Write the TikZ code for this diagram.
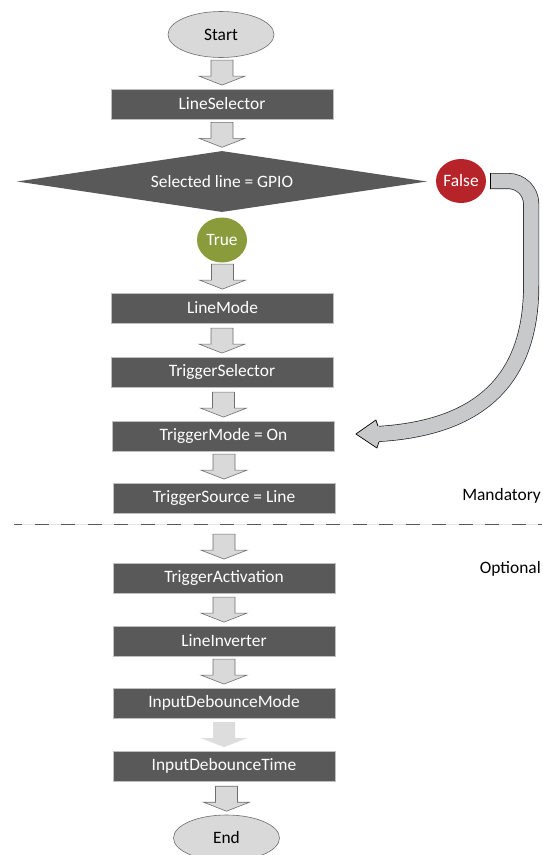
\documentclass[tikz,border=0pt]{standalone}
\usepackage{fontspec}
\setmainfont{Carlito}
\usetikzlibrary{shapes.geometric,calc}

\definecolor{boxgray}{HTML}{595959}
\definecolor{boxedge}{HTML}{BFBFBF}
\definecolor{arrowgray}{HTML}{D9D9D9}
\definecolor{arrowedge}{HTML}{6E6E6E}
\definecolor{truegreen}{HTML}{8A9B3C}
\definecolor{falsered}{HTML}{B6242A}
\definecolor{bendgray}{HTML}{C8C9CB}

% block arrow that ends just above node #3
\newcommand{\flowarrow}[3][fill=arrowgray, draw=arrowedge]{%
	\path[#1, line width=0.6pt] let \p1=(#2.south), \p2=(#3.north) in
		(\x2-11pt,\y2+28.5pt) -- (\x2+11pt,\y2+28.5pt) -- (\x2+11pt,\y2+12.5pt)
		-- (\x2+23pt,\y2+12.5pt) -- (\x2,\y2+3.5pt) -- (\x2-23pt,\y2+12.5pt)
		-- (\x2-11pt,\y2+12.5pt) -- cycle;}

\begin{document}
\begin{tikzpicture}[x=1pt, y=-1pt,
		every node/.style={font=\fontsize{17.4}{20}\selectfont},
		stepbox/.style={rectangle, fill=boxgray, draw=boxedge, line width=0.8pt, text=white,
				minimum width=222pt, minimum height=30pt, inner sep=0pt},
		terminal/.style={ellipse, fill=arrowgray, draw=arrowedge, line width=0.6pt,
				minimum width=106pt, minimum height=46pt, inner sep=0pt},
		answer/.style={ellipse, text=white, minimum width=50pt, minimum height=45pt, inner sep=0pt},
	]
	\useasboundingbox (0,0) rectangle (542,855);

	\node[terminal] (start) at (221,34.5) {Start};
	\node[stepbox] (linesel) at (222,104) {LineSelector};
	\node[diamond, aspect=6.72, fill=boxgray, text=white, minimum width=410pt, minimum height=61pt, inner sep=0pt] (gpio) at (222,181.5) {Selected line = GPIO};
	\node[answer, fill=truegreen] (true) at (222,240) {True};
	\node[answer, fill=falsered, minimum height=44pt] (false) at (461,181) {False};
	\node[stepbox] (lmode) at (222.5,308) {LineMode};
	\node[stepbox] (tsel) at (222,372) {TriggerSelector};
	\node[stepbox] (tmode) at (223.5,436) {TriggerMode = On};
	\node[stepbox] (tsrc) at (224,498) {TriggerSource = Line};
	\node[stepbox] (tact) at (224,578) {TriggerActivation};
	\node[stepbox] (linv) at (224,641) {LineInverter};
	\node[stepbox] (dbmode) at (224,703) {InputDebounceMode};
	\node[stepbox] (dbtime) at (224,766) {InputDebounceTime};
	\node[terminal] (end) at (226.5,838) {End};

	\node[anchor=east, inner sep=0pt] (mand) at (541,496) {Mandatory};
	\node[anchor=east, inner sep=0pt] (opt) at (541,569) {Optional};

	% separator
	\coordinate (sepL) at (14,524.5);
	\coordinate (sepR) at (542,524.5);
	\draw[line width=1.5pt, black!10] (sepL) -- (sepR);
	\draw[line width=1.5pt, boxgray, dash pattern=on 14pt off 12.5pt, dash phase=6pt] (sepL) -- (sepR);

	\foreach \a/\b in {start/linesel, linesel/gpio, true/lmode, lmode/tsel, tsel/tmode,
			tmode/tsrc, tsrc/tact, tact/linv, linv/dbmode, dbtime/end}
		\flowarrow{\a}{\b};
	\flowarrow[fill=arrowgray!90, draw=none]{dbmode}{dbtime};

	% bent arrow from False back to TriggerMode
	\coordinate (fs) at ($(false.east)+(4,0)$);
	\coordinate (tip) at ($(tmode.east)+(21,-2)$);
	\coordinate (hb) at ($(tip)+(22,0)$);
	\foreach \w/\c in {16pt/black!85, 14.6pt/bendgray}
		\draw[line width=\w, \c] (fs) -- ++(18,0) .. controls +(12.7,0) and +(0,-12.7) .. ++(23,23)
			-- ++(0,81) .. controls +(0,95) and +(102,-6) .. (hb);
	\fill[bendgray] ($(hb)+(1,-8)$) -- ($(hb)+(-2,-14)$) -- (tip) -- ($(hb)+(-1,14)$) -- ($(hb)+(1,8)$) -- cycle;
	\draw[line width=0.7pt, line join=round] ($(hb)+(0,-8)$) -- ($(hb)+(-2,-14)$) -- (tip) -- ($(hb)+(-1,14)$) -- ($(hb)+(1,8)$);
	\draw[line width=0.7pt] ($(fs)+(0,-8)$) -- ($(fs)+(0,8)$);
\end{tikzpicture}
\end{document}
